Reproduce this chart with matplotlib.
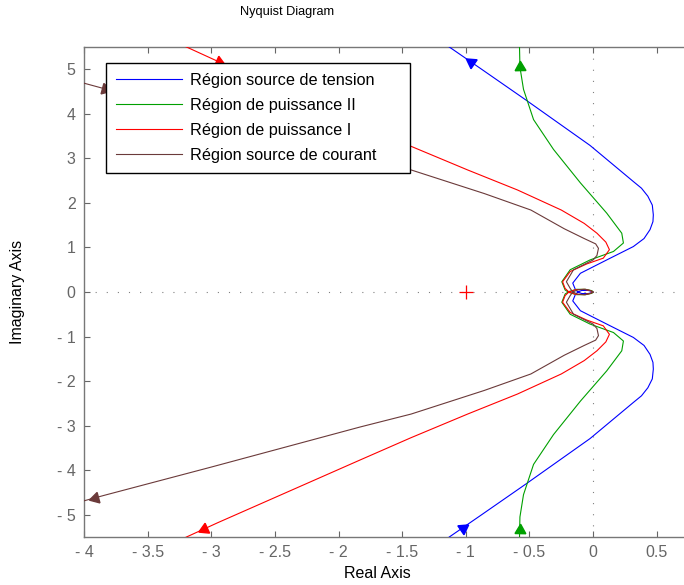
import numpy as np
import matplotlib
matplotlib.use("Agg")
import matplotlib.pyplot as plt

plt.rcParams['font.family'] = ['Liberation Sans', 'DejaVu Sans']

# upper half of each Nyquist curve, read from the far end towards the origin
# (the lower half is the mirror image)
blue_x = [-1.28, -1.13, -0.886, -0.533, -0.024, 0.316, 0.38, 0.43, 0.465, 0.473, 0.47,
          0.447, 0.40, 0.316, 0.107, -0.10, -0.16, -0.14, -0.12, -0.09, -0.04, -0.01, 0.0]
blue_y = [5.80, 5.50, 5.02, 4.32, 3.29, 2.48, 2.33, 2.15, 1.95, 1.73, 1.58,
          1.40, 1.20, 1.02, 0.72, 0.42, 0.20, 0.06, 0.0, -0.035, -0.035, -0.015, 0.0]

green_x = [-0.58, -0.578, -0.575, -0.547, -0.468, -0.311, -0.10, 0.107, 0.225, 0.238,
           0.16, -0.024, -0.18, -0.246, -0.22, -0.19, -0.13, -0.06, -0.01, 0.0]
green_y = [5.80, 5.45, 5.05, 4.55, 3.87, 3.20, 2.45, 1.77, 1.32, 1.10,
           0.91, 0.72, 0.50, 0.23, 0.045, -0.01, -0.06, -0.06, -0.03, 0.0]

red_x = [-3.35, -3.21, -2.95, -1.83, -1.43, -0.986, -0.594, -0.25, -0.07, 0.03, 0.10,
         0.128, 0.08, -0.05, -0.18, -0.24, -0.22, -0.19, -0.14, -0.07, -0.02, 0.0]
red_y = [5.70, 5.52, 5.18, 3.77, 3.27, 2.74, 2.29, 1.84, 1.54, 1.32, 1.12,
         0.95, 0.76, 0.63, 0.46, 0.23, 0.08, 0.0, -0.05, -0.06, -0.03, 0.0]

brown_x = [-4.2, -3.99, -3.835, -3.0, -1.83, -1.43, -0.855, -0.489, -0.227, -0.07, 0.02,
           0.042, 0.03, 0.0, -0.154, -0.21, -0.18, -0.16, -0.12, -0.06, -0.02, 0.0]
brown_y = [4.85, 4.68, 4.56, 3.93, 3.03, 2.74, 2.21, 1.84, 1.42, 1.20, 1.08,
           0.98, 0.82, 0.72, 0.50, 0.23, 0.08, 0.0, -0.05, -0.06, -0.03, 0.0]

labels = ['Région source de tension', 'Région de puissance II',
          'Région de puissance I', 'Région source de courant']
colors = ['#0000ff', '#00a000', '#ff0000', '#6b3a3a']
# +1: curve runs from the top half to the bottom half, -1: the other way
directions = [-1, -1, 1, 1]
# imaginary parts where the direction arrows sit (upper, lower)
arrow_y = [(5.16, -5.29), (5.05, -5.35), (5.17, -5.32), (4.56, -4.62)]

xticks = [-4, -3.5, -3, -2.5, -2, -1.5, -1, -0.5, 0, 0.5]
yticks = [-5, -4, -3, -2, -1, 0, 1, 2, 3, 4, 5]

fig = plt.figure(figsize=(6.84, 5.85), dpi=100)
ax = fig.add_axes([84 / 684, 48 / 585, 600 / 684, 490 / 585])
ax.set_xlim(-4, 0.714)
ax.set_ylim(-5.5, 5.5)

ax.axhline(0, color='#808080', lw=0.8, ls=(0, (1, 9)), zorder=1)
ax.axvline(0, color='#808080', lw=0.8, ls=(0, (1, 9)), zorder=1)


def full_curve(xs, ys):
    xs = np.array(xs)
    ys = np.array(ys)
    return (np.concatenate([xs, xs[::-1]]), np.concatenate([ys, -ys[::-1]]))


def arrow_at(xs, ys, target, sign):
    for i in range(len(xs) - 1):
        y0, y1 = ys[i], ys[i + 1]
        if (y0 - target) * (y1 - target) <= 0 and y0 != y1:
            t = (target - y0) / (y1 - y0)
            px = xs[i] + t * (xs[i + 1] - xs[i])
            p0 = ax.transData.transform((xs[i], ys[i]))
            p1 = ax.transData.transform((xs[i + 1], ys[i + 1]))
            d = (p1 - p0) * sign
            ang = np.degrees(np.arctan2(d[1], d[0])) - 90
            return px, ang
    return None


curves = [(blue_x, blue_y), (green_x, green_y), (red_x, red_y), (brown_x, brown_y)]
for (cx, cy), lab, col, sgn, (ya, yb) in zip(curves, labels, colors, directions, arrow_y):
    fx, fy = full_curve(cx, cy)
    ax.plot(fx, fy, color=col, lw=0.8, label=lab, zorder=3)
    for target in (ya, yb):
        res = arrow_at(fx, fy, target, sgn)
        if res is not None:
            ax.plot(res[0], target, marker=(3, 0, res[1]), ms=9, color=col,
                    mec=col, ls='none', zorder=4)

ax.plot(-1, 0, marker='+', color='#ff0000', ms=10, mew=0.9, zorder=3)

ax.set_xticks(xticks)
ax.set_yticks(yticks)
fmt = lambda v: ('- ' + ('%g' % abs(v))) if v < 0 else ('%g' % v)
ax.set_xticklabels([fmt(v) for v in xticks])
ax.set_yticklabels([fmt(v) for v in yticks])
ax.tick_params(direction='in', length=4, width=0.8, colors='#666666',
               labelsize=11.5, top=True, right=False, pad=6)
for s in ['left', 'bottom', 'top']:
    ax.spines[s].set_color('#777777')
    ax.spines[s].set_linewidth(1.0)
ax.spines['right'].set_visible(False)

# legend box spans px 106..410 horizontally, top at px 63
leg_top = 474 / 490
leg = ax.legend(loc='upper left', bbox_to_anchor=(22 / 600, 0.5, 304 / 600, leg_top - 0.5),
                mode='expand', borderaxespad=0,
                fontsize=11.7, handlelength=4.1, handletextpad=0.45,
                labelspacing=0.62, borderpad=0.6, fancybox=False, framealpha=1)
leg.get_frame().set_edgecolor('black')
leg.get_frame().set_linewidth(1.0)

fig.text(287 / 684, 1 - 12 / 585, 'Nyquist Diagram', ha='center', va='center', fontsize=9.2)
fig.text(377 / 684, 1 - 573 / 585, 'Real Axis', ha='center', va='center', fontsize=11.5)
fig.text(18 / 684, 1 - 292 / 585, 'Imaginary Axis', ha='center', va='center',
         rotation=90, fontsize=11.5)

fig.savefig('out.png', dpi=100)
